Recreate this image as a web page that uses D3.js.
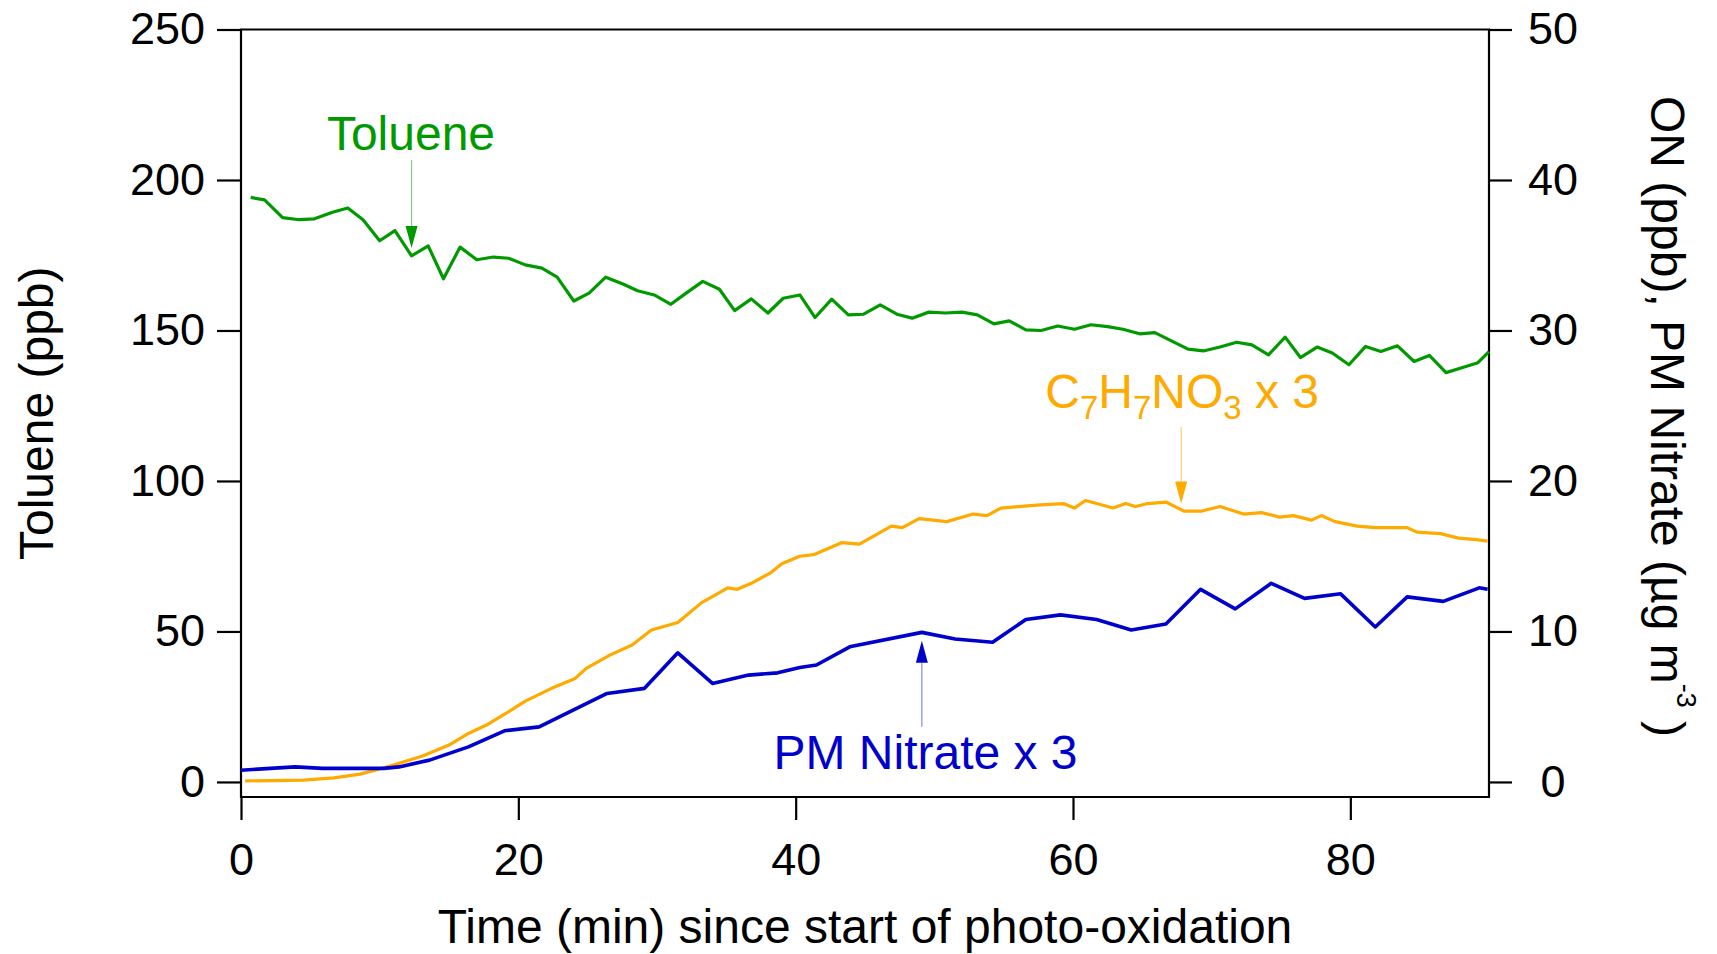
<!DOCTYPE html>
<html>
<head>
<meta charset="utf-8">
<script src="https://cdn.jsdelivr.net/npm/d3@7/dist/d3.min.js"></script>
<style>
  html, body { margin: 0; padding: 0; background: #fff; }
  svg { display: block; }
  text { font-family: "Liberation Sans", Arial, sans-serif; }
</style>
</head>
<body>
<svg id="chart" width="1717" height="954"></svg>
<script>
// ---------------- data ----------------
const toluTime = [0.7,1.7,3.0,4.2,5.3,6.6,7.7,8.8,10.0,11.1,12.3,13.5,14.6,15.8,17.0,18.2,19.3,20.5,21.7,22.8,24.0,25.1,26.3,27.5,28.6,29.8,31.0,32.1,33.3,34.5,35.6,36.8,38.0,39.1,40.3,41.4,42.6,43.8,44.9,46.1,47.3,48.4,49.6,50.8,52.0,53.1,54.3,55.4,56.6,57.7,58.9,60.1,61.3,62.5,63.6,64.8,65.9,67.2,68.3,69.4,70.6,71.8,72.9,74.1,75.3,76.4,77.6,78.7,79.9,81.1,82.2,83.4,84.6,85.7,86.9,88.1,89.2,90.0];
const toluPpb  = [194.2,193.4,187.5,186.8,187.1,189.3,190.7,186.8,179.8,183.2,174.8,178.1,167.2,177.7,173.5,174.4,174.0,171.8,170.7,167.7,159.8,162.4,167.7,165.5,163.2,161.8,158.7,162.4,166.3,163.7,156.6,160.5,155.8,160.7,161.8,154.3,160.4,155.2,155.4,158.5,155.4,154.1,156.1,155.8,156.1,155.2,152.2,153.2,150.2,150.0,151.5,150.4,151.9,151.3,150.4,148.9,149.3,146.3,143.8,143.2,144.5,146.1,145.2,141.9,147.8,141.0,144.5,142.5,138.6,144.7,143.0,144.9,139.7,141.7,136.0,137.7,139.3,143.0];

const onTime = [0.3,4.5,6.7,8.6,10.8,13.1,15.0,16.4,17.7,19.1,20.5,22.4,24.1,24.9,26.6,28.2,29.6,31.5,33.2,35.1,35.8,36.8,38.2,39.0,40.3,41.3,43.3,44.6,46.9,47.7,48.9,50.9,52.8,53.8,54.8,57.4,59.3,60.1,60.9,62.9,63.8,64.5,65.4,66.7,68.0,69.3,70.6,72.3,73.6,74.9,75.9,77.2,77.9,78.9,80.5,81.8,83.2,84.1,84.8,86.5,87.8,89.1,89.9];
const onPpbX3 = [0.07,0.12,0.27,0.52,1.07,1.72,2.45,3.22,3.78,4.55,5.37,6.22,6.88,7.55,8.43,9.1,10.1,10.6,11.9,12.9,12.8,13.2,13.9,14.5,15.0,15.1,15.9,15.8,17.0,16.9,17.5,17.3,17.8,17.7,18.2,18.4,18.5,18.2,18.7,18.2,18.5,18.3,18.5,18.6,18.0,18.0,18.3,17.8,17.9,17.6,17.7,17.4,17.7,17.3,17.0,16.9,16.9,16.9,16.6,16.5,16.2,16.1,16.0];

const pmTime = [0.0,3.9,5.9,10.3,11.4,13.6,16.4,19.0,21.5,26.4,29.1,31.5,34.0,36.6,38.7,40.3,41.5,43.9,49.1,51.5,54.2,56.6,59.1,61.7,64.2,66.7,69.2,71.7,74.3,76.7,79.3,81.8,84.1,86.7,89.3,89.9];
const pmNitrateX3 = [0.78,1.0,0.9,0.9,1.0,1.45,2.33,3.4,3.66,5.88,6.22,8.58,6.55,7.1,7.25,7.6,7.77,8.98,9.94,9.5,9.28,10.8,11.1,10.8,10.1,10.5,12.8,11.5,13.2,12.2,12.5,10.3,12.3,12.0,12.9,12.8];

const xTicks = [0,20,40,60,80];
const leftTicks = [0,50,100,150,200,250];
const rightTicks = [0,10,20,30,40,50];

// ---------------- layout ----------------
const W = 1717, H = 954;
const pLeft = 241, pRight = 1489, pTop = 29.5, pBottom = 797;
const cGreen = "#009900", cOrange = "#FFAA00", cBlue = "#0000CC";
const tickFont = 45, labelFont = 48;

const svg = d3.select("#chart");

const x = d3.scaleLinear().domain([0, 90]).range([pLeft, pRight]);
const yL = d3.scaleLinear().domain([-5, 250]).range([pBottom, pTop]);
const yR = d3.scaleLinear().domain([-1, 50]).range([pBottom, pTop]);

// axes
const gL = svg.append("g").attr("transform", `translate(${pLeft},0)`)
  .call(d3.axisLeft(yL).tickValues(leftTicks).tickSize(24).tickSizeOuter(0).tickPadding(12));
const gR = svg.append("g").attr("transform", `translate(${pRight},0)`)
  .call(d3.axisRight(yR).tickValues(rightTicks).tickSize(23).tickSizeOuter(0));
const gB = svg.append("g").attr("transform", `translate(0,${pBottom})`)
  .call(d3.axisBottom(x).tickValues(xTicks).tickSize(23).tickSizeOuter(0).tickPadding(23));

[gL, gR, gB].forEach(g => {
  g.select(".domain").remove();
  g.selectAll(".tick line").attr("stroke", "#000").attr("stroke-width", 2.2);
  g.selectAll(".tick text").attr("fill", "#000").attr("font-size", tickFont)
    .attr("font-family", '"Liberation Sans", Arial, sans-serif');
});
gR.selectAll(".tick text").attr("text-anchor", "middle").attr("x", 64);

// frame
svg.append("path").attr("d", `M${pLeft},${pTop}H${pRight}V${pBottom}H${pLeft}Z`)
  .attr("stroke", "#000").attr("stroke-width", 2.2).attr("fill", "none");

// lines
const lineL = d3.line().x(d => x(d[0])).y(d => yL(d[1]));
const lineR = d3.line().x(d => x(d[0])).y(d => yR(d[1]));

svg.append("path").datum(d3.zip(onTime, onPpbX3))
  .attr("d", lineR).attr("fill", "none").attr("stroke", cOrange).attr("stroke-width", 3.2).attr("stroke-linejoin", "round");
svg.append("path").datum(d3.zip(pmTime, pmNitrateX3))
  .attr("d", lineR).attr("fill", "none").attr("stroke", cBlue).attr("stroke-width", 3.6).attr("stroke-linejoin", "round");
svg.append("path").datum(d3.zip(toluTime, toluPpb))
  .attr("d", lineL).attr("fill", "none").attr("stroke", cGreen).attr("stroke-width", 3.2).attr("stroke-linejoin", "round");

// annotations (data units)
function arrow(t, tailY, tipY, color, lineColor) {
  const ax = x(t);
  const dir = tipY > tailY ? 1 : -1;
  const headLen = 22, hw = 6;
  svg.append("line").attr("x1", ax).attr("x2", ax).attr("y1", tailY).attr("y2", tipY - dir * headLen)
    .attr("stroke", lineColor).attr("stroke-width", 1.2);
  svg.append("path")
    .attr("d", `M${ax - hw},${tipY - dir * headLen}L${ax + hw},${tipY - dir * headLen}L${ax},${tipY}Z`)
    .attr("fill", color);
}
// Toluene
svg.append("text").attr("x", x(12.26)).attr("y", yL(210.0)).attr("text-anchor", "middle")
  .attr("font-size", labelFont).attr("fill", cGreen).text("Toluene");
arrow(12.3, yL(206.6), yL(177.4), cGreen, "#88c888");

// C7H7NO3 x 3
const ct = svg.append("text").attr("x", x(58.0)).attr("y", yR(24.87))
  .attr("font-size", labelFont).attr("fill", cOrange);
ct.append("tspan").text("C");
ct.append("tspan").attr("font-size", 33).attr("dy", 11).text("7");
ct.append("tspan").attr("dy", -11).text("H");
ct.append("tspan").attr("font-size", 33).attr("dy", 11).text("7");
ct.append("tspan").attr("dy", -11).text("NO");
ct.append("tspan").attr("font-size", 33).attr("dy", 11).text("3");
ct.append("tspan").attr("dy", -11).text(" x 3");
arrow(67.8, yR(23.6), yR(18.5), cOrange, "#ffcc77");

// PM Nitrate x 3
svg.append("text").attr("x", x(38.4)).attr("y", yR(0.84))
  .attr("font-size", labelFont).attr("fill", cBlue).text("PM Nitrate x 3");
arrow(49.1, yR(3.67), yR(9.39), cBlue, "#8888ee");

// axis titles
svg.append("text").attr("transform", `translate(53,${(pTop + pBottom) / 2})rotate(-90)`)
  .attr("text-anchor", "middle").attr("font-size", labelFont).attr("fill", "#000").text("Toluene (ppb)");

svg.append("text").attr("x", (pLeft + pRight) / 2).attr("y", 943)
  .attr("text-anchor", "middle").attr("font-size", labelFont).attr("fill", "#000")
  .text("Time (min) since start of photo-oxidation");

const rt = svg.append("text").attr("transform", `translate(1651,96)rotate(90)`)
  .attr("font-size", labelFont).attr("fill", "#000");
rt.append("tspan").text("ON (ppb), PM Nitrate (µg m");
rt.append("tspan").attr("font-size", 27).attr("dy", -26).text("-3");
rt.append("tspan").attr("dy", 26).text(" )");
</script>
</body>
</html>
